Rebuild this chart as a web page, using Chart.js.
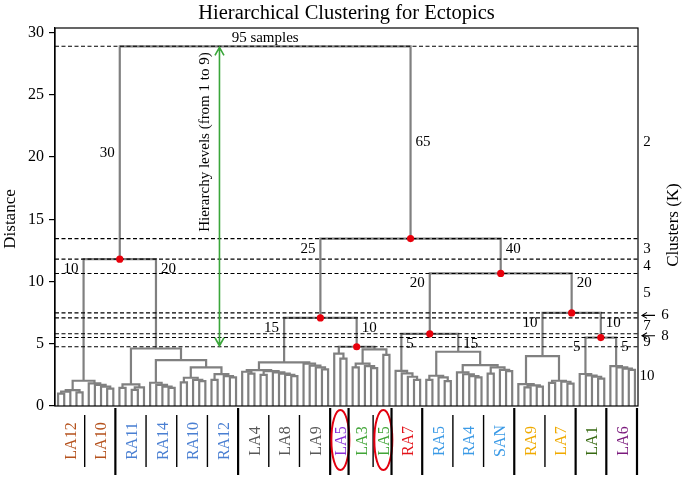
<!DOCTYPE html>
<html>
<head>
<meta charset="utf-8">
<title>Hierarchical Clustering for Ectopics</title>
<script src="https://cdn.jsdelivr.net/npm/chart.js@4.4.1/dist/chart.umd.min.js"></script>
<style>
  html, body { margin: 0; padding: 0; background: #fff; }
  #wrap { width: 686px; height: 478px; }
</style>
</head>
<body>
<div id="wrap"><canvas id="chart"></canvas></div>
<script>
// ---- data ----
const chartTitle = "Hierarchical Clustering for Ectopics";

const groupLabels = ["LA12", "LA10", "RA11", "RA14", "RA10", "RA12", "LA4", "LA8", "LA9", "LA5",
                     "LA3", "LA5", "RA7", "RA5", "RA4", "SAN", "RA9", "LA7", "LA1", "LA6"];
const groupSizes = [5, 5, 5, 5, 5, 5, 5, 5, 5, 3, 4, 3, 5, 5, 5, 5, 5, 5, 5, 5];
const groupColors = ["#b5521d", "#b5521d", "#4a7fd2", "#4a7fd2", "#4a7fd2", "#4a7fd2",
                     "#585858", "#585858", "#585858", "#8a2fd8", "#42a538", "#42a538",
                     "#e3141b", "#3b9ae6", "#3b9ae6", "#3b9ae6", "#f0aa00", "#f0aa00",
                     "#376a12", "#7b1a7d"];
// separator to the right of each group: 1 = short, 2 = long
const separatorWeight = [1, 2, 1, 1, 1, 2, 1, 1, 2, 2, 1, 2, 2, 1, 1, 2, 1, 2, 2, 2];
const circledLabel = "LA5";

// merges: [distance, left, right]; 0 = one sample
const treeLA12 = [1.28, [1.15, [1.0, 0, 0], 0], [1.1, 0, 0]];
const treeLA10 = [1.82, 0, [1.7, 0, [1.55, 0, [1.4, 0, 0]]]];
const treeRA11 = [1.74, [1.45, 0, 0], [1.5, [1.3, 0, 0], 0]];
const treeRA14 = [1.87, 0, [1.7, 0, [1.55, 0, [1.45, 0, 0]]]];
const treeRA10 = [2.27, [1.9, 0, 0], [2.1, 0, [2.0, 0, 0]]];
const treeRA12 = [2.56, [2.1, 0, 0], [2.4, 0, [2.3, 0, 0]]];
const treeLA4LA8 = [2.89, [2.75, 0, [2.6, 0, 0]],
                    [2.8, [2.5, 0, 0], [2.7, 0, [2.6, 0, [2.5, 0, [2.4, 0, 0]]]]]];
const treeLA9 = [3.4, 0, [3.25, 0, [3.1, 0, [2.95, 0, 0]]]];
const treeLA5LA3 = [4.76, [4.2, 0, [3.8, 0, 0]],
                    [4.55, [3.4, [3.1, 0, 0], [3.2, 0, [3.05, 0, 0]]], [4.1, 0, 0]]];
const treeRA7 = [2.83, 0, [2.62, 0, [2.35, 0, [2.1, 0, 0]]]];
const treeRA5 = [2.43, [2.1, 0, 0], [2.3, 0, [2.0, 0, 0]]];
const treeRA4 = [2.7, 0, [2.55, 0, [2.4, 0, [2.3, 0, 0]]]];
const treeSAN = [3.1, [2.6, 0, 0], [2.9, 0, [2.8, 0, 0]]];
const treeRA9 = [1.76, 0, [1.65, [1.5, 0, 0], [1.55, 0, 0]]];
const treeLA7 = [2.03, [1.85, 0, 0], [1.95, 0, [1.8, 0, 0]]];
const treeLA1 = [2.57, 0, [2.45, 0, [2.35, 0, [2.2, 0, 0]]]];
const treeLA6 = [3.2, 0, [3.1, 0, [3.0, 0, [2.9, 0, 0]]]];

const treeLeft = [11.8, [2.03, treeLA12, treeLA10],
                  [4.62, treeRA11, [3.69, treeRA14, [3.1, treeRA10, treeRA12]]]];
const treeRight = [13.45,
  [7.08, [3.5, treeLA4LA8, treeLA9], treeLA5LA3],
  [10.65,
    [5.8, treeRA7, [4.36, treeRA5, [3.29, treeRA4, treeSAN]]],
    [7.48, [4.0, treeRA9, treeLA7], [5.5, treeLA1, treeLA6]]]];
const tree = [28.9, treeLeft, treeRight];

const yTicks = [0, 5, 10, 15, 20, 25, 30];
const clusterCounts = [2, 3, 4, 5, 6, 7, 8, 9, 10];
const labelsOnRightFor = [5.8];   // merge whose size labels both sit on the right

// ---- layout of the tree (scipy style: leaves at 5, 15, 25 ...) ----
const LEAF_STEP = 10;
let leafCount = 0;
const merges = [];

function place(node) {
  if (!Array.isArray(node)) {
    const x = LEAF_STEP * leafCount + LEAF_STEP / 2;
    leafCount++;
    return { x, h: 0, n: 1 };
  }
  const [h, a, b] = node;
  const l = place(a);
  const r = place(b);
  const m = { x: (l.x + r.x) / 2, h, n: l.n + r.n, l, r };
  merges.push(m);
  return m;
}
const root = place(tree);
const xMax = leafCount * LEAF_STEP;

const cutNodes = merges.slice().sort((p, q) => q.h - p.h).slice(0, clusterCounts.length);
const cutHeights = cutNodes.map(m => m.h);

const linkDatasets = merges.map(m => ({
  data: [
    { x: m.l.x, y: m.l.h }, { x: m.l.x, y: m.h },
    { x: m.r.x, y: m.h }, { x: m.r.x, y: m.r.h }
  ],
  showLine: true,
  borderColor: "#808080",
  borderWidth: 2.2,
  pointRadius: 0,
  order: 2
}));

const cutDatasets = cutHeights.map(h => ({
  data: [{ x: 0, y: h }, { x: xMax, y: h }],
  showLine: true,
  borderColor: "#000",
  borderWidth: 1.1,
  borderDash: [4, 2.5],
  pointRadius: 0,
  order: 1
}));

const dotDataset = {
  data: cutNodes.slice(1).map(m => ({ x: m.x, y: m.h })),
  pointRadius: 3.6,
  pointBackgroundColor: "#e8000b",
  pointBorderWidth: 0,
  order: 0
};

// ---- drawing helpers ----
const SERIF = '"Liberation Serif", "DejaVu Serif", serif';

const drawText = (ctx, str, px, py, size, opts = {}) => {
  ctx.save();
  ctx.font = `${size}px ${SERIF}`;
  ctx.fillStyle = opts.color || "#000";
  ctx.textAlign = opts.align || "center";
  ctx.textBaseline = opts.baseline || "middle";
  ctx.translate(px, py);
  if (opts.rotate) ctx.rotate(opts.rotate);
  ctx.fillText(str, 0, 0);
  ctx.restore();
};

const decor = {
  id: "dendroDecor",
  afterDraw(chart) {
    const { ctx, chartArea: a, scales: { x, y } } = chart;
    ctx.save();

    // frame
    ctx.strokeStyle = "#000";
    ctx.lineWidth = 1.2;
    ctx.strokeRect(a.left, a.top, a.right - a.left, a.bottom - a.top);

    // titles
    drawText(ctx, chartTitle, (a.left + a.right) / 2, 18.5, 20.5, { baseline: "alphabetic" });
    drawText(ctx, "Distance", 11, (a.top + a.bottom) / 2 + 2, 17, { rotate: -Math.PI / 2 });
    drawText(ctx, "Clusters (K)", 674, 225, 17, { rotate: -Math.PI / 2 });

    // samples on the root
    drawText(ctx, `${leafCount} samples`, x.getPixelForValue(root.x),
             y.getPixelForValue(root.h) - 4, 15, { baseline: "alphabetic" });

    // cluster sizes beside the branches
    cutNodes.slice(0, cutNodes.length - 1).forEach((m, i) => {
      const hp = y.getPixelForValue(m.h);
      [[m.l, -1], [m.r, 1]].forEach(([child, side]) => {
        if (labelsOnRightFor.includes(m.h)) side = 1;
        const cx = x.getPixelForValue(child.x);
        const cy = i === 0 ? (hp + y.getPixelForValue(child.h)) / 2 : hp + 10;
        drawText(ctx, String(child.n), cx + side * 5, cy, 15,
                 { align: side < 0 ? "right" : "left" });
      });
    });

    // number of clusters K between cut levels
    clusterCounts.forEach((k, i) => {
      const top = y.getPixelForValue(cutHeights[i]);
      const bottom = y.getPixelForValue(i + 1 < cutHeights.length ? cutHeights[i + 1] : 0);
      const my = (top + bottom) / 2;
      if (bottom - top < 8) {
        ctx.strokeStyle = "#000";
        ctx.lineWidth = 1.1;
        ctx.beginPath();
        ctx.moveTo(a.right + 17, my);
        ctx.lineTo(a.right + 4, my);
        ctx.moveTo(a.right + 9, my - 3);
        ctx.lineTo(a.right + 4, my);
        ctx.lineTo(a.right + 9, my + 3);
        ctx.stroke();
        drawText(ctx, String(k), a.right + 27, my, 15);
      } else {
        drawText(ctx, String(k), a.right + 9, my, 15);
      }
    });

    // hierarchy arrow
    const ax = x.getPixelForValue(268);
    const ay1 = y.getPixelForValue(cutHeights[0]) + 1;
    const ay2 = y.getPixelForValue(cutHeights[cutHeights.length - 1]) - 1;
    ctx.strokeStyle = "#3aa63a";
    ctx.lineWidth = 1.6;
    ctx.beginPath();
    ctx.moveTo(ax, ay1);
    ctx.lineTo(ax, ay2);
    ctx.moveTo(ax - 4.5, ay1 + 8);
    ctx.lineTo(ax, ay1);
    ctx.lineTo(ax + 4.5, ay1 + 8);
    ctx.moveTo(ax - 4.5, ay2 - 8);
    ctx.lineTo(ax, ay2);
    ctx.lineTo(ax + 4.5, ay2 - 8);
    ctx.stroke();
    drawText(ctx, "Hierarchy levels (from 1 to 9)", ax - 14, ay1 + 5, 15,
             { rotate: -Math.PI / 2, align: "right" });

    // sample groups below the axis
    let start = 0;
    groupLabels.forEach((label, g) => {
      const size = groupSizes[g];
      const cx = x.getPixelForValue(LEAF_STEP * start + LEAF_STEP * size / 2);
      drawText(ctx, label, cx + 1, 441, 16, { rotate: -Math.PI / 2, color: groupColors[g] });
      if (label === circledLabel) {
        ctx.strokeStyle = "#e3000f";
        ctx.lineWidth = 2;
        ctx.beginPath();
        ctx.ellipse(cx, 440, 9, 30, 0, 0, Math.PI * 2);
        ctx.stroke();
      }
      start += size;
      const sx = x.getPixelForValue(LEAF_STEP * start) - 1;
      const strong = separatorWeight[g] === 2;
      ctx.strokeStyle = "#000";
      ctx.lineWidth = strong ? 2.2 : 1.4;
      ctx.beginPath();
      ctx.moveTo(sx, strong ? 408 : 415);
      ctx.lineTo(sx, strong ? 475 : 467);
      ctx.stroke();
    });

    ctx.restore();
  }
};

new Chart(document.getElementById("chart"), {
  type: "scatter",
  data: { datasets: [...linkDatasets, ...cutDatasets, dotDataset] },
  options: {
    responsive: true,
    maintainAspectRatio: false,
    animation: false,
    events: [],
    layout: { padding: { left: 0, right: 48, top: 28, bottom: 72 } },
    plugins: {
      legend: { display: false },
      tooltip: { enabled: false },
      title: { display: false }
    },
    scales: {
      x: { type: "linear", min: 0, max: xMax, display: false },
      y: {
        type: "linear",
        min: 0,
        max: 30.37,
        afterFit: (scale) => { scale.width = 55; },
        afterBuildTicks: (scale) => {
          scale.ticks = yTicks.map(v => ({ value: v }));
        },
        ticks: {
          color: "#000",
          padding: 5,
          font: { family: SERIF, size: 16 }
        },
        grid: {
          display: true,
          drawOnChartArea: false,
          drawTicks: true,
          tickLength: 6,
          color: "#000",
          lineWidth: 1.2
        },
        border: { display: true, color: "#000", width: 1.2 }
      }
    }
  },
  plugins: [decor]
});
</script>
</body>
</html>
